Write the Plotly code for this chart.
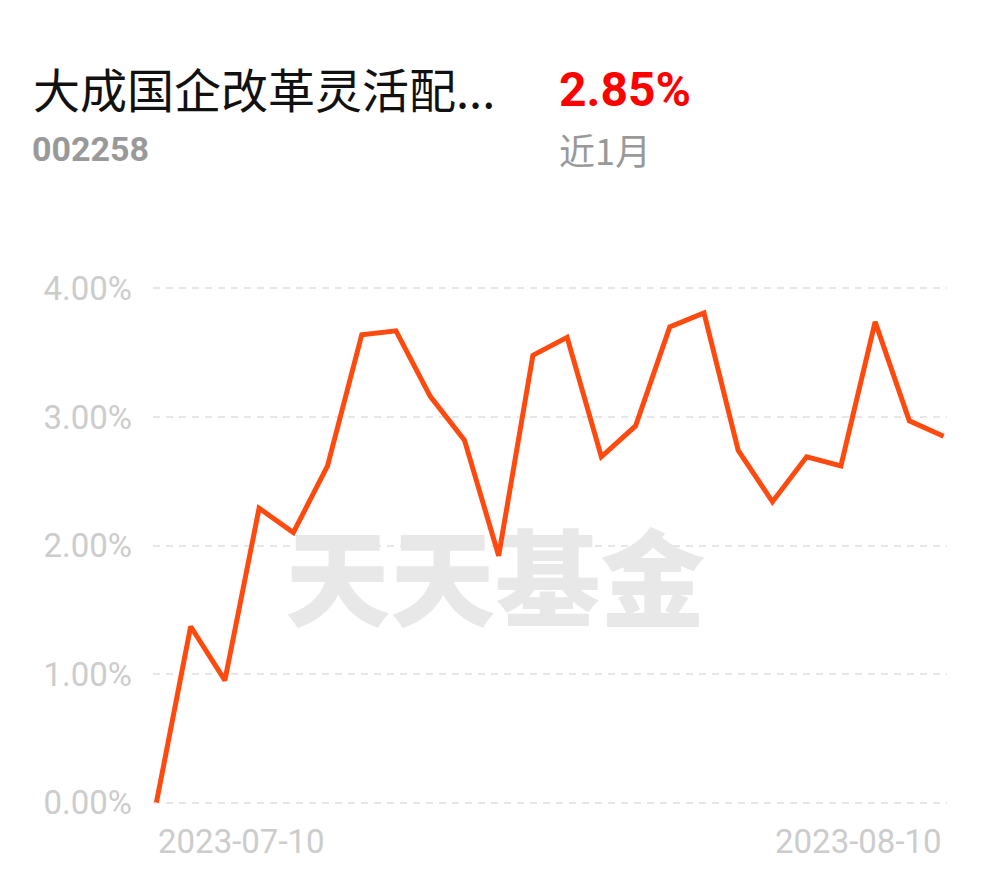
import plotly.graph_objects as go

dates = ["2023-07-10", "2023-07-11", "2023-07-12", "2023-07-13", "2023-07-14",
         "2023-07-17", "2023-07-18", "2023-07-19", "2023-07-20", "2023-07-21",
         "2023-07-24", "2023-07-25", "2023-07-26", "2023-07-27", "2023-07-28",
         "2023-07-31", "2023-08-01", "2023-08-02", "2023-08-03", "2023-08-04",
         "2023-08-07", "2023-08-08", "2023-08-09", "2023-08-10"]
returns = [0.00, 1.37, 0.95, 2.29, 2.10, 2.62, 3.64, 3.67, 3.16, 2.82,
           1.92, 3.48, 3.62, 2.69, 2.93, 3.70, 3.81, 2.74, 2.34, 2.69,
           2.62, 3.74, 2.97, 2.85]
y_ticks = [0, 1, 2, 3, 4]
y_tick_labels = ["0.00%", "1.00%", "2.00%", "3.00%", "4.00%"]
fund_name = "大成国企改革灵活配..."
fund_code = "002258"
period_return = "2.85%"
period_label = "近1月"
watermark = "天天基金"

W, H = 990, 878
n = len(dates)
xr = [-0.1, n - 1 + 0.1]
yr = [-0.05, 4.05]
# plot area in pixels
px_per_x = (944 - 156) / (n - 1)
left = 156 - 0.1 * px_per_x
right = 944 + 0.1 * px_per_x
px_per_y = (803 - 288) / 4
top = 288 - 0.05 * px_per_y
bottom = 803 + 0.05 * px_per_y
ml, mr, mt, mb = left, W - right, top, H - bottom

def pxx(p):
    return (p - left) / (right - left)

def pxy(p):
    return (bottom - p) / (bottom - top)

idx = list(range(n))
fig = go.Figure()
fig.add_trace(go.Scatter(
    x=[idx[n // 2 - 2] - 0.1], y=[1.64], mode="text", text=[watermark],
    textfont=dict(family="Noto Sans CJK SC", size=105, color="#e8e8e8", weight=900),
    hoverinfo="skip", showlegend=False))
fig.add_trace(go.Scatter(
    x=idx, y=returns, mode="lines",
    line=dict(color="#ff4a0f", width=5, shape="linear"),
    customdata=dates, hovertemplate="%{customdata}: %{y:.2f}%<extra></extra>",
    showlegend=False))

fig.update_layout(
    width=W, height=H,
    margin=dict(l=ml, r=mr, t=mt, b=mb, pad=0),
    paper_bgcolor="white", plot_bgcolor="white",
    font=dict(family="Roboto", color="#cccccc"),
    xaxis=dict(range=xr, showgrid=False, zeroline=False, showline=False,
               showticklabels=False, ticks=""),
    yaxis=dict(range=yr, tickvals=y_ticks, ticktext=y_tick_labels,
               showgrid=True, gridcolor="#e6e6e6", gridwidth=2, griddash="7px,6px",
               zeroline=False, showline=False, ticks="",
               tickfont=dict(family="Roboto", size=33, color="#cccccc"),
               ticklabelstandoff=20),
)

ann = []
ann.append(dict(x=0, y=0, xref="x", yref="paper", text=dates[0], showarrow=False,
                xanchor="left", yanchor="middle", yshift=-(842 - bottom),
                font=dict(family="Roboto", size=33, color="#cccccc")))
ann.append(dict(x=n - 1, y=0, xref="x", yref="paper", text=dates[-1], showarrow=False,
                xanchor="right", yanchor="middle", yshift=-(842 - bottom),
                font=dict(family="Roboto", size=33, color="#cccccc")))
ann.append(dict(x=pxx(30), y=pxy(87), xref="paper", yref="paper", text=fund_name,
                showarrow=False, xanchor="left", yanchor="middle",
                font=dict(family="Noto Sans CJK SC", size=47, color="#111111")))
ann.append(dict(x=pxx(29), y=pxy(148), xref="paper", yref="paper", text="<b>" + fund_code + "</b>",
                showarrow=False, xanchor="left", yanchor="middle",
                font=dict(family="Roboto", size=34, color="#999999")))
ann.append(dict(x=pxx(557), y=pxy(89), xref="paper", yref="paper", text="<b>" + period_return + "</b>",
                showarrow=False, xanchor="left", yanchor="middle",
                font=dict(family="Roboto", size=48, color="#ff0000")))
ann.append(dict(x=pxx(557), y=pxy(148), xref="paper", yref="paper", text=period_label,
                showarrow=False, xanchor="left", yanchor="middle",
                font=dict(family="Noto Sans CJK SC", size=36, color="#999999")))
fig.update_layout(annotations=ann)

fig.write_html("out.html", config={"displayModeBar": False},
               post_script="document.body.style.margin='0';")
